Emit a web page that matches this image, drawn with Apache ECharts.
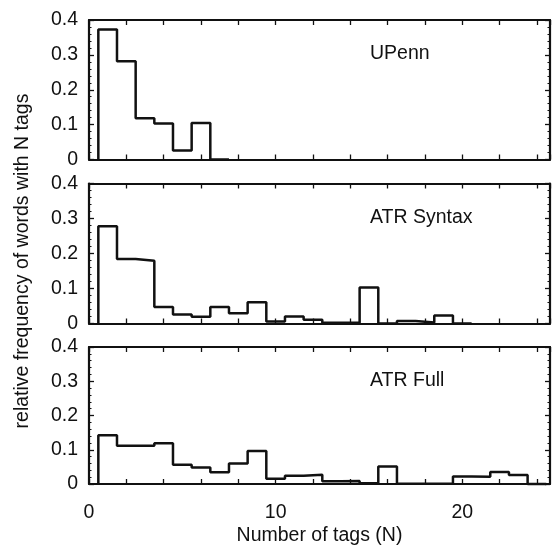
<!DOCTYPE html>
<html><head><meta charset="utf-8">
<script src="https://cdn.jsdelivr.net/npm/echarts@6/dist/echarts.min.js"></script>
<style>html,body{margin:0;padding:0;background:#fff}#c{width:554px;height:547px}</style>
</head><body><div id="c"></div>
<script>
// Data: relative frequency for N = 1, 2, 3, ... (bins centred on integers)
const panelNames = ['UPenn', 'ATR Syntax', 'ATR Full'];
const upenn = [0.373, 0.282, 0.118, 0.103, 0.026, 0.105, 0];
const atrSyntax = [0.278, 0.184, 0.179, 0.047, 0.026, 0.019, 0.047, 0.029, 0.061, 0.006,
                   0.020, 0.011, 0.002, 0.002, 0.103, 0.000, 0.007, 0.003, 0.023, 0];
const atrFull = [0.142, 0.112, 0.112, 0.119, 0.056, 0.048, 0.034, 0.060, 0.096, 0.015,
                 0.024, 0.027, 0.008, 0.009, 0.002, 0.051, 0.001, 0.001, 0.001, 0.022,
                 0.021, 0.035, 0.026, 0];
const xTickLabels = [0, 10, 20];
const yTickLabels = [0, 0.1, 0.2, 0.3, 0.4];
const xTitle = 'Number of tags (N)';
const yTitle = 'relative frequency of words with N tags';

const panels = [upenn, atrSyntax, atrFull];

function outline(vals) {
  const pts = [[0.5, 0]];
  vals.forEach((v, i) => { const n = i + 1; pts.push([n - 0.5, v]); pts.push([n + 0.5, v]); });
  pts.push([vals.length + 0.5, 0]);
  return pts;
}

const FONT = 'Liberation Sans, Arial, sans-serif';
const FS = 19.5;
const INK = '#111';
const tops = [20, 183.5, 347];
const heights = [139.5, 140, 139.5];
const LEFT = 89, WIDTH = 461;
const XMAX = 24.7;

const grid = [], xAxis = [], yAxis = [], series = [], graphic = [];
const lineStyle = { color: INK, width: 2.2 };
const tick = { show: true, inside: true, length: 5, lineStyle: { color: INK, width: 1.3 } };

panels.forEach((vals, i) => {
  grid.push({ left: LEFT, top: tops[i], width: WIDTH, height: heights[i], containLabel: false });
  const isLast = i === panels.length - 1;
  xAxis.push({
    type: 'value', gridIndex: i, position: 'bottom', min: 0, max: XMAX, interval: 2,
    axisLine: { show: true, onZero: false, lineStyle },
    axisTick: tick,
    splitLine: { show: false },
    axisLabel: {
      show: isLast, margin: 19, color: INK, fontFamily: FONT, fontSize: FS,
      showMaxLabel: false,
      formatter: v => (xTickLabels.indexOf(v) >= 0 ? String(v) : '')
    },
    name: isLast ? xTitle : '', nameLocation: 'middle', nameGap: 42,
    nameTextStyle: { color: INK, fontFamily: FONT, fontSize: FS }
  });
  xAxis.push({
    type: 'value', gridIndex: i, position: 'top', min: 0, max: XMAX, interval: 2,
    axisLine: { show: true, onZero: false, lineStyle },
    axisTick: tick, splitLine: { show: false }, axisLabel: { show: false }
  });
  yAxis.push({
    type: 'value', gridIndex: i, position: 'left', min: 0, max: 0.4, interval: 0.1,
    axisLine: { show: true, onZero: false, lineStyle },
    axisTick: tick,
    minorTick: { show: true, splitNumber: 5, length: 2.5, lineStyle: { color: INK, width: 1 } },
    splitLine: { show: false },
    axisLabel: {
      margin: 11, color: INK, fontFamily: FONT, fontSize: FS,
      formatter: v => { const k = yTickLabels.find(t => Math.abs(t - v) < 1e-9); return k === 0 ? '0' : k.toFixed(1); }
    }
  });
  yAxis.push({
    type: 'value', gridIndex: i, position: 'right', min: 0, max: 0.4, interval: 0.1,
    axisLine: { show: true, onZero: false, lineStyle },
    axisTick: tick,
    minorTick: { show: true, splitNumber: 5, length: 2.5, lineStyle: { color: INK, width: 1 } },
    splitLine: { show: false }, axisLabel: { show: false }
  });
  series.push({
    type: 'line', xAxisIndex: 2 * i, yAxisIndex: 2 * i, data: outline(vals),
    showSymbol: false, symbol: 'none', lineStyle: { color: INK, width: 2.5 }, clip: false, animation: false
  });
  graphic.push({
    type: 'text', x: 370, y: tops[i] + 34,
    style: { text: panelNames[i], font: FS + 'px ' + FONT, fill: INK, textVerticalAlign: 'middle' }
  });
});

graphic.push({
  type: 'text', x: 23, y: 261, rotation: Math.PI / 2,
  style: { text: yTitle, font: FS + 'px ' + FONT, fill: INK, textAlign: 'center', textVerticalAlign: 'middle' }
});

const chart = echarts.init(document.getElementById('c'), null, { renderer: 'canvas' });
chart.setOption({ backgroundColor: '#fff', animation: false, grid, xAxis, yAxis, series, graphic });
</script>
</body></html>
